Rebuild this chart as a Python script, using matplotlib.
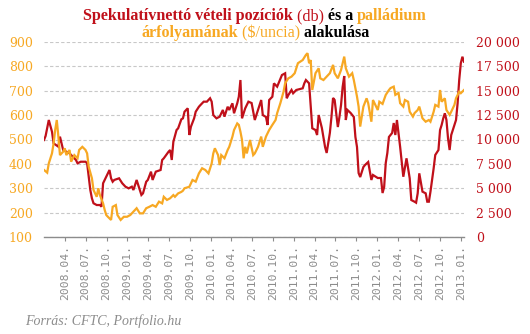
import numpy as np
import pandas as pd
import matplotlib
matplotlib.use("Agg")
import matplotlib.pyplot as plt
import matplotlib.dates as mdates
from matplotlib.ticker import FuncFormatter
from matplotlib.offsetbox import TextArea, HPacker, VPacker, AnchoredOffsetbox

# weekly CFTC data, weeks counted from 2008-01-01
red_weeks = [0, 1, 3, 5, 6, 9, 10, 12, 14, 16, 18, 20, 21, 23, 26, 27, 28, 29, 30, 31,
             33, 35, 36, 37, 38, 39, 41, 42, 43, 44, 47, 49, 51, 53, 55, 56, 58, 61, 62, 64,
             65, 67, 68, 70, 73, 74, 75, 78, 79, 80, 81, 83, 84, 86, 87, 88, 90, 91, 92, 94,
             95, 97, 98, 100, 102, 104, 105, 106, 108, 110, 112, 113, 115, 116, 118, 119, 121, 122, 123, 124,
             126, 128, 130, 132, 134, 136, 137, 139, 140, 141, 143, 144, 146, 149, 151, 152, 153, 155, 156, 158,
             162, 163, 164, 166, 168, 170, 171, 172, 174, 176, 177, 179, 180, 181, 182, 184, 185, 186, 187, 188,
             189, 190, 192, 194, 195, 196, 197, 198, 200, 201, 203, 205, 206, 209, 211, 212, 213, 214, 215, 216,
             218, 219, 220, 221, 223, 224, 225, 227, 229, 230, 232, 233, 234, 235, 237, 239, 240, 241, 242, 244,
             245, 247, 248, 249, 250, 251, 252, 253, 254, 255, 258, 259, 260, 261, 262, 263]
net_positions = [9950, 10360, 12000, 10800, 9610, 9260, 10290, 8920, 8750, 8580, 8240, 7900, 7560, 7720, 7720, 7560, 6180, 4820, 3970, 3460,
                 3280, 3280, 3110, 5510, 5850, 6180, 6870, 6020, 5670, 5850, 6020, 5510, 5160, 4990, 5160, 4820, 5850, 4310, 4480, 5670,
                 5850, 6700, 5850, 6700, 6870, 7900, 8070, 8750, 8920, 7900, 9770, 10970, 11150, 12070, 12170, 12850, 13200, 10460, 11310, 12170,
                 12850, 13360, 13540, 13880, 13880, 14230, 13880, 12510, 12170, 12340, 13030, 12340, 13360, 13030, 13710, 12690, 13710, 14390, 16100, 12170,
                 13200, 13880, 13740, 12000, 13030, 14050, 12510, 12310, 11490, 14050, 14390, 15760, 15420, 16610, 16790, 14230, 14560, 15080, 14740, 15080,
                 15250, 15760, 16100, 15760, 11150, 10970, 10460, 12510, 11180, 9230, 8620, 10670, 12310, 14260, 14050, 11280, 12310, 13540, 15380, 16510,
                 12000, 13030, 12720, 12310, 10260, 9230, 6560, 6150, 7180, 7380, 7690, 5850, 6360, 6050, 6050, 4510, 5130, 7590, 8620, 10260,
                 10670, 11690, 10460, 12000, 9260, 7720, 6180, 8070, 6020, 3790, 3620, 3520, 4480, 6530, 4650, 4480, 3620, 3620, 4650, 7050,
                 8410, 8920, 10970, 11490, 12170, 12690, 12000, 10120, 8920, 10460, 12000, 13710, 16100, 17820, 18490, 17980]

orange_weeks = [0, 2, 3, 5, 6, 7, 8, 9, 10, 12, 13, 14, 16, 17, 19, 21, 22, 24, 26, 27,
                28, 30, 31, 33, 34, 35, 37, 38, 39, 40, 42, 43, 45, 46, 48, 50, 52, 54, 56, 58,
                60, 62, 64, 66, 68, 70, 72, 74, 75, 77, 79, 81, 82, 84, 86, 87, 88, 91, 93, 95,
                97, 99, 101, 103, 105, 106, 107, 109, 110, 111, 113, 115, 116, 118, 119, 121, 122, 123, 124, 125,
                126, 127, 129, 131, 132, 134, 136, 137, 139, 141, 143, 145, 146, 148, 150, 151, 153, 155, 157, 159,
                162, 164, 165, 166, 167, 168, 170, 172, 173, 175, 177, 179, 181, 182, 184, 186, 188, 189, 191, 193,
                194, 196, 197, 198, 200, 202, 203, 205, 206, 209, 210, 212, 214, 216, 217, 219, 220, 222, 223, 225,
                226, 228, 229, 231, 232, 234, 235, 237, 239, 241, 242, 244, 245, 247, 248, 249, 251, 252, 254, 255,
                257, 258, 260, 261, 263]
palladium = [375, 364, 402, 443, 484, 539, 580, 512, 436, 450, 464, 436, 457, 409, 436, 423, 457, 470, 457, 443,
             388, 341, 293, 265, 300, 272, 238, 211, 190, 183, 170, 224, 231, 190, 170, 183, 183, 190, 204, 218,
             197, 197, 218, 224, 231, 224, 245, 238, 265, 252, 259, 272, 265, 279, 285, 290, 300, 306, 334, 327,
             361, 382, 375, 361, 402, 443, 464, 436, 395, 436, 423, 457, 470, 512, 539, 566, 560, 532, 498, 423,
             470, 443, 498, 436, 443, 470, 512, 470, 512, 539, 560, 580, 608, 649, 696, 731, 751, 758, 772, 813,
             826, 847, 854, 813, 826, 703, 772, 792, 751, 744, 758, 772, 806, 772, 751, 785, 840, 792, 758, 772,
             744, 676, 635, 553, 635, 669, 649, 573, 662, 621, 655, 646, 683, 703, 711, 717, 683, 691, 649, 635,
             662, 655, 614, 594, 608, 621, 635, 587, 573, 580, 573, 614, 642, 635, 703, 655, 669, 621, 601, 614,
             642, 669, 696, 690, 703]

start = pd.Timestamp("2008-01-01")
red_dates = start + pd.to_timedelta(np.array(red_weeks) * 7, unit="D")
orange_dates = start + pd.to_timedelta(np.array(orange_weeks) * 7, unit="D")
tick_dates = pd.date_range("2008-04-01", "2013-01-01", freq="QS")

RED = "#C0101A"
ORANGE = "#F7A823"
GREY = "#8c8c8c"

fig = plt.figure(figsize=(5.3, 3.34), dpi=100)
ax2 = fig.add_axes([44 / 530, 97 / 334, 420 / 530, 195 / 334])
ax = ax2.twinx()
ax.set_zorder(ax2.get_zorder() + 1)
ax.patch.set_visible(False)

ax2.plot(red_dates, net_positions, color=RED, lw=1.6, solid_joinstyle="miter")
ax.plot(orange_dates, palladium, color=ORANGE, lw=1.6, solid_joinstyle="miter")

# left axis = palladium, right axis = net positions
ax.yaxis.tick_left()
ax2.yaxis.tick_right()
ax.set_ylim(100, 900)
ax2.set_ylim(0, 20000)
ax.set_yticks(range(100, 901, 100))
ax2.set_yticks(range(0, 20001, 2500))
ax2.yaxis.set_major_formatter(FuncFormatter(lambda v, p: f"{v:,.0f}".replace(",", " ")))
ax.tick_params(axis="y", length=0, pad=8, labelcolor=ORANGE, labelsize=9)
ax2.tick_params(axis="y", length=0, pad=9, labelcolor=RED, labelsize=9)
for lab in ax.get_yticklabels() + ax2.get_yticklabels():
    lab.set_fontfamily("DejaVu Serif")

ax2.set_xlim(red_dates[0], red_dates[-1])
ax2.set_xticks(tick_dates)
ax2.xaxis.set_major_formatter(mdates.DateFormatter("%Y.%m."))
ax2.tick_params(axis="x", length=3, color=GREY, pad=3, labelcolor=GREY, labelsize=8.2, rotation=90)
for lab in ax2.get_xticklabels():
    lab.set_fontfamily("DejaVu Sans Mono")
ax.tick_params(axis="x", length=0)

ax2.grid(axis="y", color="#c8c8c8", lw=0.8, ls=(0, (3, 2)))
ax2.set_axisbelow(True)
for a in (ax, ax2):
    for s in ("left", "right", "top"):
        a.spines[s].set_visible(False)
ax.spines["bottom"].set_visible(False)
ax2.spines["bottom"].set_color(GREY)
ax2.spines["bottom"].set_linewidth(1)

# title in coloured pieces
def piece(txt, color, bold=True):
    return TextArea(txt, textprops=dict(color=color, fontsize=11.6, family="Liberation Serif",
                                        fontweight="bold" if bold else "normal"))

line1 = HPacker(children=[piece("Spekulatívnettó vételi pozíciók", RED),
                          piece(" (db)", RED, bold=False),
                          piece(" és a ", "black"),
                          piece("palládium", ORANGE)], align="baseline", pad=0, sep=0)
line2 = HPacker(children=[piece("árfolyamának", ORANGE),
                          piece(" ($/uncia)", ORANGE, bold=False),
                          piece(" alakulása", "black")], align="baseline", pad=0, sep=0)
title = VPacker(children=[line1, line2], align="center", pad=0, sep=1)
box = AnchoredOffsetbox(loc="upper center", child=title, frameon=False, pad=0, borderpad=0,
                        bbox_to_anchor=(255 / 530, 1 - 8 / 334), bbox_transform=fig.transFigure)
fig.add_artist(box)

fig.text(25 / 530, 1 - 321 / 334, "Forrás: CFTC, Portfolio.hu", color=GREY, fontsize=10,
         family="Liberation Serif", style="italic", va="center", ha="left")

fig.savefig("out.png", dpi=100)
